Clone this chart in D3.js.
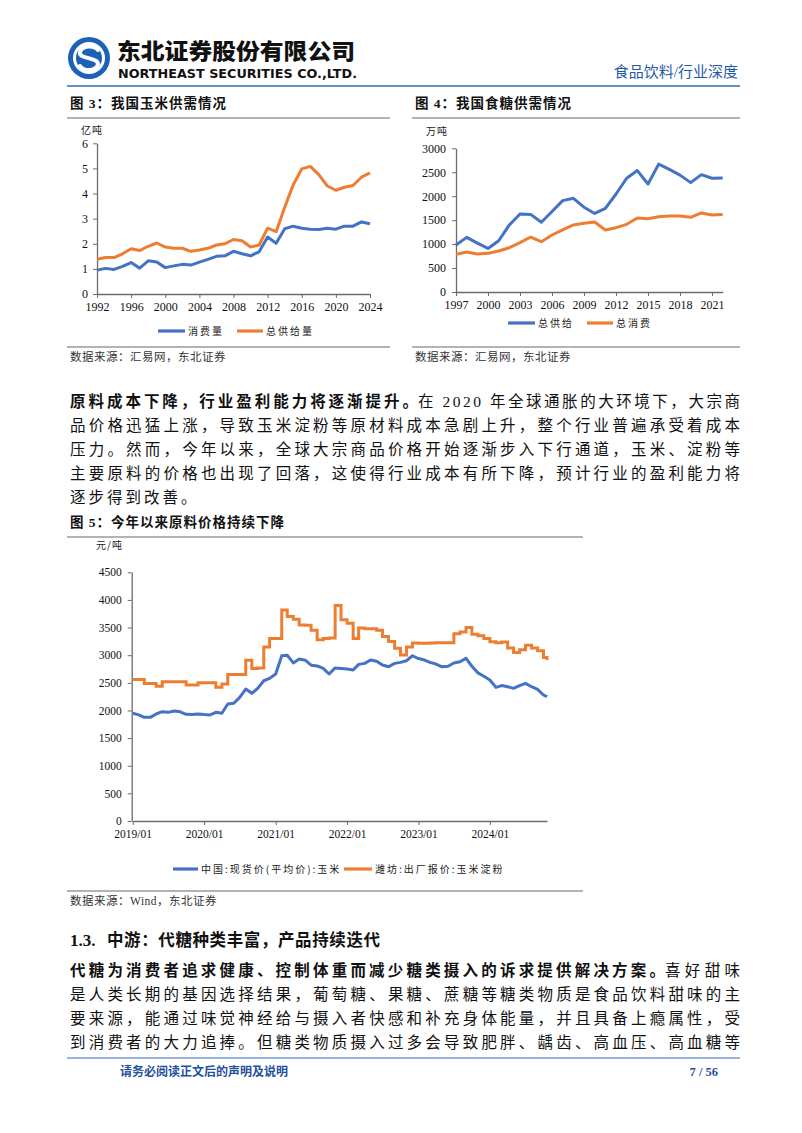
<!DOCTYPE html>
<html>
<head>
<meta charset="utf-8">
<script src="https://cdn.jsdelivr.net/npm/d3@7"></script>
<style>
  body { margin: 0; background: #fff; }
  svg { display: block; }
</style>
</head>
<body>
<div id="page"></div>
<script>
// chart 3: corn supply / consumption (亿吨)
var cornYears = [1992,1993,1994,1995,1996,1997,1998,1999,2000,2001,2002,2003,2004,2005,2006,2007,2008,
                 2009,2010,2011,2012,2013,2014,2015,2016,2017,2018,2019,2020,2021,2022,2023,2024];
var cornConsumption = [0.95,1.02,0.98,1.1,1.25,1.03,1.32,1.27,1.05,1.12,1.18,1.15,1.27,1.38,1.5,1.52,1.7,
                       1.6,1.52,1.68,2.27,2.02,2.6,2.7,2.62,2.58,2.57,2.62,2.58,2.7,2.7,2.87,2.8];
var cornSupply = [1.38,1.45,1.45,1.6,1.8,1.73,1.9,2.03,1.87,1.82,1.82,1.7,1.75,1.82,1.95,2.0,2.17,
                  2.12,1.87,1.95,2.62,2.48,3.45,4.35,4.98,5.08,4.75,4.3,4.13,4.25,4.32,4.65,4.82];
var cornTicksX = [1992,1996,2000,2004,2008,2012,2016,2020,2024];
var cornTicksY = [0,1,2,3,4,5,6];

// chart 4: sugar supply / consumption (万吨)
var sugarYears = [1997,1998,1999,2000,2001,2002,2003,2004,2005,2006,2007,2008,2009,
                  2010,2011,2012,2013,2014,2015,2016,2017,2018,2019,2020,2021,2022];
var sugarSupply = [980,1140,1020,910,1070,1400,1630,1620,1455,1680,1907,1956,1770,
                   1640,1747,2046,2375,2535,2255,2670,2560,2440,2283,2450,2375,2380];
var sugarConsumption = [786,835,795,807,856,925,1030,1148,1050,1190,1295,1400,1434,
                        1460,1295,1343,1413,1545,1531,1573,1587,1587,1560,1650,1608,1620];
var sugarTicksX = [1997,2000,2003,2006,2009,2012,2015,2018,2021];
var sugarTicksY = [0,500,1000,1500,2000,2500,3000];

// chart 5: raw material prices (元/吨)
var priceDates = [
  "2019-01-01","2019-02-01","2019-03-01","2019-04-01","2019-05-01","2019-06-01","2019-07-01","2019-08-01","2019-09-01","2019-10-01","2019-11-01","2019-12-01",
  "2020-01-01","2020-02-01","2020-03-01","2020-04-01","2020-05-01","2020-06-01","2020-07-01","2020-08-01","2020-09-01","2020-10-01","2020-11-01","2020-12-01",
  "2021-01-01","2021-02-01","2021-03-01","2021-04-01","2021-05-01","2021-06-01","2021-07-01","2021-08-01","2021-09-01","2021-10-01","2021-11-01","2021-12-01",
  "2022-01-01","2022-02-01","2022-03-01","2022-04-01","2022-05-01","2022-06-01","2022-07-01","2022-08-01","2022-09-01","2022-10-01","2022-11-01","2022-12-01",
  "2023-01-01","2023-02-01","2023-03-01","2023-04-01","2023-05-01","2023-06-01","2023-07-01","2023-08-01","2023-09-01","2023-10-01","2023-11-01","2023-12-01",
  "2024-01-01","2024-02-01","2024-03-01","2024-04-01","2024-05-01","2024-06-01","2024-07-01","2024-08-01","2024-09-01","2024-10-01","2024-10-19"];
var cornPrice = [1950,1920,1876,1876,1936,1978,1966,1990,1975,1930,1925,1936,
                 1925,1920,1966,1950,2117,2130,2237,2388,2310,2400,2538,2580,
                 2660,2990,3000,2860,2930,2910,2820,2805,2760,2660,2770,2760,
                 2750,2732,2834,2852,2912,2890,2822,2792,2852,2870,2900,2990,
                 2940,2912,2870,2840,2790,2800,2860,2882,2943,2800,2680,2620,
                 2551,2418,2450,2430,2400,2450,2491,2430,2382,2280,2250];
var starchPrice = [2560,2560,2490,2490,2440,2520,2520,2520,2520,2460,2460,2500,
                   2500,2500,2420,2480,2650,2650,2650,2910,2760,2770,3150,3300,
                   3300,3817,3700,3650,3545,3540,3450,3280,3300,3310,3900,3640,
                   3580,3300,3490,3480,3480,3450,3340,3250,3124,3003,3150,3220,
                   3214,3214,3220,3225,3225,3225,3390,3420,3500,3380,3350,3300,
                   3244,3226,3240,3130,3050,3100,3180,3130,3080,2960,2912];
var priceTicksY = [0,500,1000,1500,2000,2500,3000,3500,4000,4500];
var priceTicksX = ["2019-01-01","2020-01-01","2021-01-01","2022-01-01","2023-01-01","2024-01-01"];

var BLUE = "#4472c4", ORANGE = "#ed7d31";
var CJK = "'Noto Sans CJK SC', sans-serif";
var SERIF = "'Liberation Serif', 'Noto Sans CJK SC', serif";
var AXIS = "#6b6b6b";

var svg = d3.select("#page").append("svg")
    .attr("width", 802)
    .attr("height", 1133);

// ---------- page header ----------
var logo = svg.append("g");
logo.append("circle").attr("cx", 89).attr("cy", 58).attr("r", 21).attr("fill", "#1c63b7");
logo.append("circle").attr("cx", 89).attr("cy", 58).attr("r", 16).attr("fill", "#fff");
logo.append("circle").attr("cx", 89).attr("cy", 58).attr("r", 13).attr("fill", "#1c63b7");
logo.append("path")
    .attr("d", "M98,50 C94,45 82,45 80,52 C78,59 98,57 98,64 C97,71 84,72 80,66")
    .attr("fill", "none").attr("stroke", "#fff").attr("stroke-width", 4).attr("stroke-linecap", "round");

svg.append("text").attr("x", 117).attr("y", 59)
    .attr("textLength", 238).attr("lengthAdjust", "spacingAndGlyphs")
    .style("font-family", CJK).style("font-size", "22px").style("font-weight", 900)
    .attr("fill", "#111").text("东北证券股份有限公司");
svg.append("text").attr("x", 118).attr("y", 78)
    .attr("textLength", 239).attr("lengthAdjust", "spacingAndGlyphs")
    .style("font-family", "'DejaVu Sans', sans-serif").style("font-size", "12px").style("font-weight", "bold")
    .attr("fill", "#111").text("NORTHEAST SECURITIES CO.,LTD.");
svg.append("text").attr("x", 738).attr("y", 77).attr("text-anchor", "end")
    .style("font-family", SERIF).style("font-size", "15px")
    .attr("fill", "#1f5aa6").text("食品饮料/行业深度");
svg.append("line").attr("x1", 67).attr("x2", 740).attr("y1", 86).attr("y2", 86)
    .attr("stroke", "#2f6db3").attr("stroke-width", 1.5);

// ---------- helpers ----------
function figTitle(x, y, lineX2, label) {
    svg.append("text").attr("x", x).attr("y", y + 5)
        .style("font-family", SERIF).style("font-size", "13.5px").style("font-weight", "bold")
        .style("letter-spacing", "1px").attr("fill", "#111").text(label);
    svg.append("line").attr("x1", x - 3).attr("x2", lineX2).attr("y1", y + 15).attr("y2", y + 15)
        .attr("stroke", "#9a9a9a").attr("stroke-width", 1.5);
}
function sourceNote(x, y, lineX2, label) {
    svg.append("line").attr("x1", x - 3).attr("x2", lineX2).attr("y1", y - 10).attr("y2", y - 10)
        .attr("stroke", "#9a9a9a").attr("stroke-width", 1.5);
    svg.append("text").attr("x", x).attr("y", y + 4)
        .style("font-family", SERIF).style("font-size", "11.5px")
        .style("letter-spacing", "0.5px").attr("fill", "#333").text(label);
}
function styleAxis(g, size) {
    g.select(".domain").attr("stroke", AXIS).attr("stroke-width", 1.3);
    g.selectAll(".tick line").attr("stroke", AXIS);
    g.selectAll(".tick text").style("font-family", SERIF).style("font-size", size).attr("fill", "#111");
}
function legendItem(x1, x2, y, color, label) {
    svg.append("line").attr("x1", x1).attr("x2", x2).attr("y1", y).attr("y2", y)
        .attr("stroke", color).attr("stroke-width", 3.2);
    svg.append("text").attr("x", x2 + 3).attr("y", y + 3.5)
        .style("font-family", CJK).style("font-size", "10px").style("letter-spacing", "2px")
        .attr("fill", "#222").text(label);
}
function unitLabel(x, y, label) {
    svg.append("text").attr("x", x).attr("y", y + 4)
        .style("font-family", CJK).style("font-size", "10px").style("letter-spacing", "1px")
        .attr("fill", "#222").text(label);
}
function bodyLine(y, parts) {
    // parts: [text, bold, x1, x2(optional for justified)]
    parts.forEach(function(p) {
        var t = svg.append("text").attr("x", p[2]).attr("y", y + 6)
            .style("font-family", SERIF).style("font-size", "15.5px")
            .style("font-weight", p[1] ? "bold" : "normal").attr("fill", "#111").text(p[0]);
        if (p[3]) t.attr("textLength", p[3] - p[2]).attr("lengthAdjust", "spacing");
        else t.style("letter-spacing", "3px");
    });
}

// ---------- figure 3 ----------
figTitle(70, 103, 390, "图 3：我国玉米供需情况");
var x1 = d3.scaleLinear().domain([1992, 2024]).range([97, 370]);
var y1 = d3.scaleLinear().domain([0, 6]).range([294, 143.3]);
unitLabel(81, 130, "亿吨");
svg.append("g").attr("transform", "translate(0,294)")
    .call(d3.axisBottom(x1).tickValues(cornTicksX).tickFormat(d3.format("d")).tickSize(4).tickSizeOuter(0).tickPadding(4))
    .call(styleAxis, "12px");
svg.append("g").attr("transform", "translate(97,0)")
    .call(d3.axisLeft(y1).tickValues(cornTicksY).tickFormat(d3.format("d")).tickSize(4).tickSizeOuter(0).tickPadding(5))
    .call(styleAxis, "12px");
var line1 = d3.line().x(function(d) { return x1(d[0]); }).y(function(d) { return y1(d[1]); });
svg.append("path").datum(d3.zip(cornYears, cornSupply)).attr("d", line1)
    .attr("fill", "none").attr("stroke", ORANGE).attr("stroke-width", 3).attr("stroke-linejoin", "round");
svg.append("path").datum(d3.zip(cornYears, cornConsumption)).attr("d", line1)
    .attr("fill", "none").attr("stroke", BLUE).attr("stroke-width", 3).attr("stroke-linejoin", "round");
legendItem(158, 185, 331, BLUE, "消费量");
legendItem(237, 263, 331, ORANGE, "总供给量");
sourceNote(70, 357, 390, "数据来源：汇易网，东北证券");

// ---------- figure 4 ----------
figTitle(415, 103, 740, "图 4：我国食糖供需情况");
var x2 = d3.scaleLinear().domain([1997, 2022]).range([456, 722.7]);
var y2 = d3.scaleLinear().domain([0, 3000]).range([292, 148.3]);
unitLabel(426, 131, "万吨");
svg.append("g").attr("transform", "translate(0,292)")
    .call(d3.axisBottom(x2).tickValues(sugarTicksX).tickFormat(d3.format("d")).tickSize(4).tickSizeOuter(0).tickPadding(4))
    .call(styleAxis, "12px");
svg.append("g").attr("transform", "translate(456,0)")
    .call(d3.axisLeft(y2).tickValues(sugarTicksY).tickFormat(d3.format("d")).tickSize(4).tickSizeOuter(0).tickPadding(6))
    .call(styleAxis, "12px");
var line2 = d3.line().x(function(d) { return x2(d[0]); }).y(function(d) { return y2(d[1]); });
svg.append("path").datum(d3.zip(sugarYears, sugarConsumption)).attr("d", line2)
    .attr("fill", "none").attr("stroke", ORANGE).attr("stroke-width", 3).attr("stroke-linejoin", "round");
svg.append("path").datum(d3.zip(sugarYears, sugarSupply)).attr("d", line2)
    .attr("fill", "none").attr("stroke", BLUE).attr("stroke-width", 3).attr("stroke-linejoin", "round");
legendItem(508, 535, 323, BLUE, "总供给");
legendItem(587, 613, 323, ORANGE, "总消费");
sourceNote(415, 357, 740, "数据来源：汇易网，东北证券");

// ---------- paragraph 1 ----------
bodyLine(401, [["原料成本下降，行业盈利能力将逐渐提升。", true, 70, 418], ["在 2020 年全球通胀的大环境下，大宗商", false, 418, 740]]);
bodyLine(425, [["品价格迅猛上涨，导致玉米淀粉等原材料成本急剧上升，整个行业普遍承受着成本", false, 70, 740]]);
bodyLine(449, [["压力。然而，今年以来，全球大宗商品价格开始逐渐步入下行通道，玉米、淀粉等", false, 70, 740]]);
bodyLine(473, [["主要原料的价格也出现了回落，这使得行业成本有所下降，预计行业的盈利能力将", false, 70, 740]]);
bodyLine(497, [["逐步得到改善。", false, 70]]);

// ---------- figure 5 ----------
figTitle(70, 522, 583, "图 5：今年以来原料价格持续下降");
var parseDay = d3.timeParse("%Y-%m-%d");
var dates = priceDates.map(parseDay);
var x3 = d3.scaleTime().domain([parseDay("2019-01-01"), parseDay("2024-10-19")]).range([132.7, 547]);
var y3 = d3.scaleLinear().domain([0, 4500]).range([821, 572.3]);
unitLabel(96, 545, "元/吨");
svg.append("g").attr("transform", "translate(0,821)")
    .call(d3.axisBottom(x3).tickValues(priceTicksX.map(parseDay)).tickFormat(d3.timeFormat("%Y/%m"))
        .tickSize(4).tickSizeOuter(0).tickPadding(5))
    .call(styleAxis, "11.5px");
svg.append("g").attr("transform", "translate(131.7,0)")
    .call(d3.axisLeft(y3).tickValues(priceTicksY).tickFormat(d3.format("d")).tickSize(4).tickSizeOuter(0).tickPadding(6))
    .call(styleAxis, "11.5px");
var lineStarch = d3.line().curve(d3.curveStepAfter)
    .x(function(d) { return x3(d[0]); }).y(function(d) { return y3(d[1]); });
var lineCorn = d3.line()
    .x(function(d) { return x3(d[0]); }).y(function(d) { return y3(d[1]); });
svg.append("path").datum(d3.zip(dates, starchPrice)).attr("d", lineStarch)
    .attr("fill", "none").attr("stroke", ORANGE).attr("stroke-width", 3);
svg.append("path").datum(d3.zip(dates, cornPrice)).attr("d", lineCorn)
    .attr("fill", "none").attr("stroke", BLUE).attr("stroke-width", 3).attr("stroke-linejoin", "round");
legendItem(173, 198, 869, BLUE, "中国:现货价(平均价):玉米");
legendItem(344, 372, 869, ORANGE, "潍坊:出厂报价:玉米淀粉");
sourceNote(70, 901, 583, "数据来源：Wind，东北证券");

// ---------- section 1.3 ----------
svg.append("text").attr("x", 70).attr("y", 946)
    .style("font-family", SERIF).style("font-size", "17px").style("font-weight", "bold")
    .attr("fill", "#111").text("1.3.");
svg.append("text").attr("x", 107).attr("y", 946)
    .attr("textLength", 273).attr("lengthAdjust", "spacing")
    .style("font-family", SERIF).style("font-size", "16.5px").style("font-weight", "bold")
    .attr("fill", "#111").text("中游：代糖种类丰富，产品持续迭代");

bodyLine(970, [["代糖为消费者追求健康、控制体重而减少糖类摄入的诉求提供解决方案。", true, 70, 665], ["喜好甜味", false, 665, 740]]);
bodyLine(994, [["是人类长期的基因选择结果，葡萄糖、果糖、蔗糖等糖类物质是食品饮料甜味的主", false, 70, 740]]);
bodyLine(1018, [["要来源，能通过味觉神经给与摄入者快感和补充身体能量，并且具备上瘾属性，受", false, 70, 740]]);
bodyLine(1042, [["到消费者的大力追捧。但糖类物质摄入过多会导致肥胖、龋齿、高血压、高血糖等", false, 70, 740]]);

// ---------- footer ----------
svg.append("line").attr("x1", 67).attr("x2", 740).attr("y1", 1058).attr("y2", 1058)
    .attr("stroke", "#2f6db3").attr("stroke-width", 1.2);
svg.append("text").attr("x", 120).attr("y", 1076)
    .attr("textLength", 168).attr("lengthAdjust", "spacing")
    .style("font-family", SERIF).style("font-size", "12px").style("font-weight", "bold")
    .attr("fill", "#1f4f9e").text("请务必阅读正文后的声明及说明");
svg.append("text").attr("x", 718).attr("y", 1076).attr("text-anchor", "end")
    .style("font-family", SERIF).style("font-size", "12.5px").style("font-weight", "bold")
    .attr("fill", "#1f4f9e").text("7 / 56");
</script>
</body>
</html>
